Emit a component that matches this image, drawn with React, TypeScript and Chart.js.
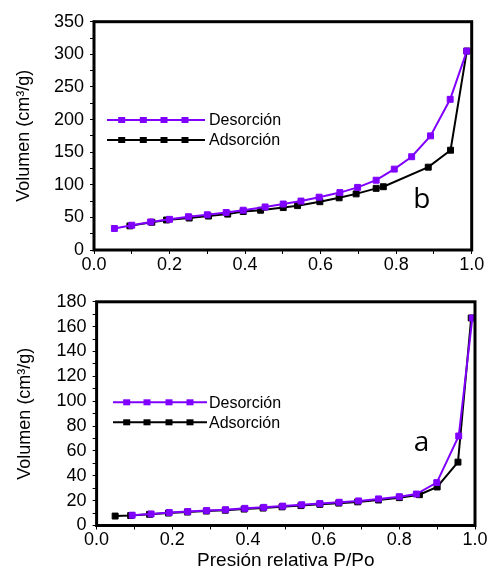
import React, { useEffect, useRef } from 'react';
import { Chart, registerables } from 'chart.js';

Chart.register(...registerables);

const PURPLE = '#8000ff';
const BLACK = '#000000';

// Panel b (top)
const topDesX = [0.054, 0.10, 0.15, 0.20, 0.25, 0.30, 0.35, 0.395, 0.453, 0.501, 0.548, 0.596, 0.651, 0.698, 0.747, 0.795, 0.841, 0.891, 0.943, 0.987];
const topDesY = [33, 38, 43, 47, 51, 54, 57.5, 61, 66, 70.5, 75, 81, 88, 96, 107, 124, 143, 175, 231, 305];
const topAdsX = [0.095, 0.153, 0.192, 0.252, 0.303, 0.354, 0.395, 0.441, 0.501, 0.539, 0.598, 0.649, 0.694, 0.747, 0.766, 0.885, 0.944, 0.987];
const topAdsY = [37, 42.5, 46, 49, 52, 55, 59, 61, 65, 68, 74, 80, 86, 94.5, 97, 127, 153, 305];

// Panel a (bottom)
const botDesX = [0.094, 0.144, 0.192, 0.241, 0.291, 0.341, 0.392, 0.442, 0.492, 0.542, 0.590, 0.641, 0.692, 0.745, 0.800, 0.845, 0.899, 0.957, 0.993];
const botDesY = [8.3, 9.3, 10.4, 11.2, 12.0, 12.7, 13.8, 14.6, 15.6, 16.7, 17.7, 18.7, 19.8, 21.4, 23.2, 25.3, 34.5, 72, 167];
const botAdsX = [0.049, 0.09, 0.14, 0.19, 0.24, 0.29, 0.34, 0.39, 0.44, 0.49, 0.54, 0.59, 0.64, 0.69, 0.745, 0.80, 0.853, 0.90, 0.955, 0.99];
const botAdsY = [7.6, 8.0, 9.0, 10.0, 10.8, 11.6, 12.3, 13.2, 14.0, 15.0, 16.0, 17.0, 18.0, 19.0, 20.5, 22.4, 24.8, 31, 51, 167];

const seriesLabels = ['Desorción', 'Adsorción'];
const yTitle = 'Volumen (cm³/g)';
const xTitle = 'Presión relativa P/Po';

const FONT = '"Liberation Sans", Arial, sans-serif';

const toPts = (xs: number[], ys: number[]) => xs.map((x, i) => ({ x, y: ys[i] }));

type PanelProps = {
  top: number;
  height: number;
  desX: number[]; desY: number[]; adsX: number[]; adsY: number[];
  yMax: number; yStep: number; yLabelEvery: number;
  pad: { top: number; right: number };
  yWidth: number; xHeight: number;
  yTitlePad: number;
  showXTitle: boolean;
  legend: { x1: number; x2: number; marks: number[]; y: number[]; tx: number };
  tag: { text: string; x: number; y: number };
};

function Panel(p: PanelProps) {
  const ref = useRef<HTMLCanvasElement | null>(null);
  useEffect(() => {
    if (!ref.current) return;
    const framePlugin = {
      id: 'frame',
      afterDraw(chart: any) {
        const { ctx, chartArea: a } = chart;
        ctx.save();
        ctx.strokeStyle = '#000';
        ctx.lineWidth = 3;
        ctx.strokeRect(a.left, a.top, a.right - a.left, a.bottom - a.top);
        ctx.restore();
      },
    };
    const legendPlugin = {
      id: 'customLegend',
      afterDraw(chart: any) {
        const ctx = chart.ctx;
        chart.data.datasets.forEach((ds: any, i: number) => {
          const y = p.legend.y[i];
          ctx.save();
          ctx.strokeStyle = ds.borderColor;
          ctx.lineWidth = 2;
          ctx.beginPath();
          ctx.moveTo(p.legend.x1, y);
          ctx.lineTo(p.legend.x2, y);
          ctx.stroke();
          ctx.fillStyle = ds.borderColor;
          p.legend.marks.forEach((mx) => ctx.fillRect(mx - 3.5, y - 3, 7, 6));
          ctx.fillStyle = '#000';
          ctx.font = '16px ' + FONT;
          ctx.textBaseline = 'middle';
          ctx.textAlign = 'left';
          ctx.fillText(ds.label, p.legend.tx, y + 1);
          ctx.restore();
        });
      },
    };
    const tagPlugin = {
      id: 'tag',
      afterDraw(chart: any) {
        const ctx = chart.ctx;
        const xs = chart.scales.x, ys = chart.scales.y;
        ctx.save();
        ctx.fillStyle = '#000';
        ctx.font = '28px "Open Sans", sans-serif';
        ctx.textAlign = 'center';
        ctx.textBaseline = 'middle';
        ctx.fillText(p.tag.text, xs.getPixelForValue(p.tag.x), ys.getPixelForValue(p.tag.y));
        ctx.restore();
      },
    };
    const chart = new Chart(ref.current, {
      type: 'scatter',
      data: {
        datasets: [
          {
            label: seriesLabels[0],
            data: toPts(p.desX, p.desY),
            showLine: true,
            borderColor: PURPLE,
            backgroundColor: PURPLE,
            borderWidth: 2,
            pointStyle: 'rect',
            pointRadius: 4.2,
            pointBorderWidth: 1,
            pointBorderColor: PURPLE,
            pointBackgroundColor: PURPLE,
          },
          {
            label: seriesLabels[1],
            data: toPts(p.adsX, p.adsY),
            showLine: true,
            borderColor: BLACK,
            backgroundColor: BLACK,
            borderWidth: 2,
            pointStyle: 'rect',
            pointRadius: 4.2,
            pointBorderWidth: 1,
            pointBorderColor: BLACK,
            pointBackgroundColor: BLACK,
          },
        ],
      },
      options: {
        animation: false,
        responsive: false,
        devicePixelRatio: 1,
        layout: { padding: { left: 0, top: p.pad.top, right: p.pad.right, bottom: 0 } },
        plugins: { legend: { display: false }, tooltip: { enabled: false } },
        scales: {
          x: {
            type: 'linear',
            min: 0,
            max: 1,
            afterFit: (s: any) => { s.height = p.xHeight; },
            border: { display: false },
            grid: { display: true, drawOnChartArea: false, drawTicks: true, tickLength: 4, color: '#000', lineWidth: 1 },
            ticks: {
              stepSize: 0.1,
              autoSkip: false,
              maxRotation: 0,
              padding: 0,
              color: '#000',
              font: { family: FONT, size: 18 },
              callback: (v: any) => (Math.round(Number(v) * 10) % 2 === 0 ? Number(v).toFixed(1) : ''),
            },
            title: {
              display: p.showXTitle,
              text: xTitle,
              color: '#000',
              font: { family: FONT, size: 19 },
              padding: { top: 0, bottom: 1.6 },
            },
          },
          y: {
            type: 'linear',
            min: 0,
            max: p.yMax,
            afterFit: (s: any) => { s.width = p.yWidth; },
            border: { display: false },
            grid: { display: true, drawOnChartArea: false, drawTicks: true, tickLength: 4, color: '#000', lineWidth: 1 },
            ticks: {
              stepSize: p.yStep,
              autoSkip: false,
              padding: 6,
              color: '#000',
              font: { family: FONT, size: 18 },
              callback: (v: any) => (Number(v) % p.yLabelEvery === 0 ? String(v) : ''),
            },
            title: {
              display: true,
              text: yTitle,
              color: '#000',
              font: { family: FONT, size: 18 },
              padding: { top: p.yTitlePad, bottom: 0 },
            },
          },
        },
      } as any,
      plugins: [framePlugin, legendPlugin, tagPlugin],
    });
    return () => chart.destroy();
  }, []);
  return (
    <canvas
      ref={ref}
      width={493}
      height={p.height}
      style={{ position: 'absolute', left: 0, top: p.top, width: 493, height: p.height }}
    />
  );
}

export default function App() {
  return (
    <div style={{ position: 'absolute', left: 0, top: 0, width: 493, height: 574, background: '#fff' }}>
      <Panel
        top={0}
        height={287}
        desX={topDesX} desY={topDesY} adsX={topAdsX} adsY={topAdsY}
        yMax={350} yStep={25} yLabelEvery={50}
        pad={{ top: 21.7, right: 21.3 }}
        yWidth={94} xHeight={37}
        yTitlePad={13}
        showXTitle={false}
        legend={{ x1: 107, x2: 205, marks: [121.7, 143.3, 164, 185], y: [120, 140], tx: 209 }}
        tag={{ text: 'b', x: 0.868, y: 76.6 }}
      />
      <Panel
        top={285}
        height={289}
        desX={botDesX} desY={botDesY} adsX={botAdsX} adsY={botAdsY}
        yMax={180} yStep={10} yLabelEvery={20}
        pad={{ top: 11.7, right: 18 }}
        yWidth={96.6} xHeight={48.5}
        yTitlePad={14}
        showXTitle={true}
        legend={{ x1: 113, x2: 207, marks: [126.7, 147, 169, 190], y: [117.3, 137.3], tx: 209 }}
        tag={{ text: 'a', x: 0.859, y: 66.5 }}
      />
    </div>
  );
}
